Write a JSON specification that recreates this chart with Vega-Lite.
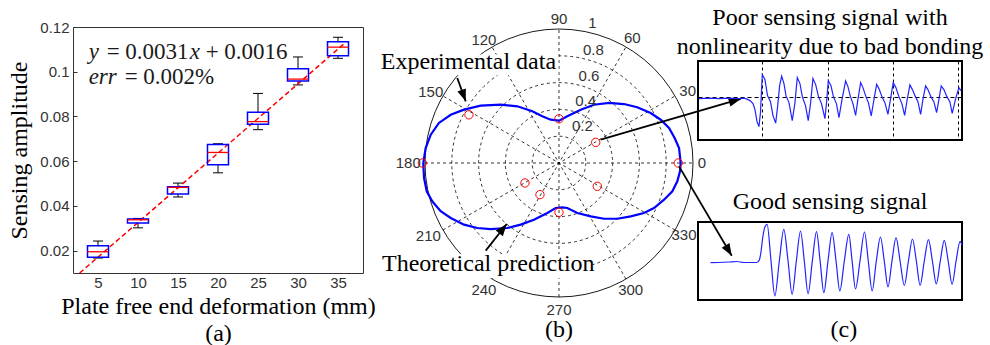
{
  "$schema": "https://vega.github.io/schema/vega-lite/v6.json",
  "background": "white",
  "padding": {"left": 7, "top": 5, "right": 5, "bottom": 5},
  "config": {
    "view": {"stroke": null},
    "axis": {"labelFont": "Liberation Sans", "titleFont": "Liberation Serif", "titleFontWeight": "normal"},
    "axisX": {"ticks": false, "domain": false, "grid": false, "labelFontSize": 15, "labelColor": "#333333", "labelPadding": 2, "titleFontSize": 24, "titleColor": "black", "titleLineHeight": 27, "titlePadding": 4},
    "axisY": {"ticks": true, "tickSize": -4, "tickColor": "#333333", "domain": false, "grid": false, "labelFontSize": 15, "labelColor": "#333333", "labelPadding": 8, "titleFontSize": 24, "titleColor": "black", "titlePadding": 8},
    "title": {"font": "Liberation Serif", "fontWeight": "normal"}
  },
  "datasets": {
    "boxes": [
      {"deformation": 5, "min": 0.0167, "q1": 0.0170, "median": 0.0195, "q3": 0.0222, "max": 0.0243},
      {"deformation": 10, "min": 0.0302, "q1": 0.0324, "median": 0.0338, "q3": 0.0341, "max": 0.0344},
      {"deformation": 15, "min": 0.0440, "q1": 0.0453, "median": 0.0483, "q3": 0.0486, "max": 0.0502},
      {"deformation": 20, "min": 0.0548, "q1": 0.0584, "median": 0.0639, "q3": 0.0675, "max": 0.0678},
      {"deformation": 25, "min": 0.0741, "q1": 0.0765, "median": 0.0777, "q3": 0.0819, "max": 0.0903},
      {"deformation": 30, "min": 0.0941, "q1": 0.0959, "median": 0.0967, "q3": 0.1013, "max": 0.1066},
      {"deformation": 35, "min": 0.1060, "q1": 0.1071, "median": 0.1110, "q3": 0.1134, "max": 0.1154}
    ],
    "fit": [
      {"deformation": 2.71, "amplitude": 0.01},
      {"deformation": 35.8, "amplitude": 0.1126}
    ],
    "theory": [
      {"i": 0, "x": -1.013, "y": 0}, {"i": 1, "x": -0.995, "y": 0.112}, {"i": 2, "x": -0.957, "y": 0.211},
      {"i": 3, "x": -0.896, "y": 0.299}, {"i": 4, "x": -0.808, "y": 0.36}, {"i": 5, "x": -0.709, "y": 0.398},
      {"i": 6, "x": -0.584, "y": 0.428}, {"i": 7, "x": -0.435, "y": 0.435}, {"i": 8, "x": -0.311, "y": 0.423},
      {"i": 9, "x": -0.199, "y": 0.386}, {"i": 10, "x": -0.125, "y": 0.349}, {"i": 11, "x": -0.062, "y": 0.323},
      {"i": 12, "x": 0, "y": 0.316}, {"i": 13, "x": 0.062, "y": 0.349}, {"i": 14, "x": 0.162, "y": 0.398},
      {"i": 15, "x": 0.261, "y": 0.435}, {"i": 16, "x": 0.373, "y": 0.448}, {"i": 17, "x": 0.485, "y": 0.44},
      {"i": 18, "x": 0.584, "y": 0.416}, {"i": 19, "x": 0.684, "y": 0.373}, {"i": 20, "x": 0.759, "y": 0.323},
      {"i": 21, "x": 0.821, "y": 0.261}, {"i": 22, "x": 0.863, "y": 0.187}, {"i": 23, "x": 0.896, "y": 0.112},
      {"i": 24, "x": 0.908, "y": 0}, {"i": 25, "x": 0.903, "y": -0.062}, {"i": 26, "x": 0.883, "y": -0.137},
      {"i": 27, "x": 0.846, "y": -0.211}, {"i": 28, "x": 0.784, "y": -0.274}, {"i": 29, "x": 0.709, "y": -0.336},
      {"i": 30, "x": 0.634, "y": -0.373}, {"i": 31, "x": 0.535, "y": -0.398}, {"i": 32, "x": 0.435, "y": -0.416},
      {"i": 33, "x": 0.336, "y": -0.416}, {"i": 34, "x": 0.237, "y": -0.398}, {"i": 35, "x": 0.137, "y": -0.373},
      {"i": 36, "x": 0.062, "y": -0.336}, {"i": 37, "x": 0.025, "y": -0.331}, {"i": 38, "x": -0.025, "y": -0.336},
      {"i": 39, "x": -0.087, "y": -0.373}, {"i": 40, "x": -0.187, "y": -0.423}, {"i": 41, "x": -0.286, "y": -0.46},
      {"i": 42, "x": -0.386, "y": -0.485}, {"i": 43, "x": -0.51, "y": -0.493}, {"i": 44, "x": -0.61, "y": -0.485},
      {"i": 45, "x": -0.709, "y": -0.46}, {"i": 46, "x": -0.808, "y": -0.41}, {"i": 47, "x": -0.883, "y": -0.36},
      {"i": 48, "x": -0.946, "y": -0.286}, {"i": 49, "x": -0.987, "y": -0.211}, {"i": 50, "x": -1.007, "y": -0.112},
      {"i": 51, "x": -1.013, "y": 0}
    ],
    "experiment": [
      {"x": -1.02, "y": 0}, {"x": -0.672, "y": 0.36}, {"x": 0, "y": 0.33}, {"x": 0.274, "y": 0.154},
      {"x": 0.89, "y": 0}, {"x": 0.286, "y": -0.174}, {"x": 0, "y": -0.368}, {"x": -0.142, "y": -0.236},
      {"x": -0.254, "y": -0.149}
    ],
    "rings": [{"r": 0.2}, {"r": 0.4}, {"r": 0.6}, {"r": 0.8}, {"r": 1}],
    "spokes": [
      {"x": -1, "y": 0, "x2": 1, "y2": 0},
      {"x": -0.866, "y": -0.5, "x2": 0.866, "y2": 0.5},
      {"x": -0.5, "y": -0.866, "x2": 0.5, "y2": 0.866},
      {"x": 0, "y": -1, "x2": 0, "y2": 1},
      {"x": 0.5, "y": -0.866, "x2": -0.5, "y2": 0.866},
      {"x": 0.866, "y": -0.5, "x2": -0.866, "y2": 0.5}
    ],
    "angleLabels": [
      {"label": "0", "x": 1.067, "y": 0}, {"label": "30", "x": 0.96, "y": 0.535},
      {"label": "60", "x": 0.547, "y": 0.933}, {"label": "90", "x": 0, "y": 1.077},
      {"label": "120", "x": -0.56, "y": 0.92}, {"label": "150", "x": -0.957, "y": 0.53},
      {"label": "180", "x": -1.125, "y": 0}, {"label": "210", "x": -0.975, "y": -0.547},
      {"label": "240", "x": -0.56, "y": -0.945}, {"label": "270", "x": 0, "y": -1.095},
      {"label": "300", "x": 0.535, "y": -0.945}, {"label": "330", "x": 0.933, "y": -0.54}
    ],
    "radiusLabels": [
      {"label": "1", "x": 0.249, "y": 1.045}, {"label": "0.8", "x": 0.256, "y": 0.846},
      {"label": "0.6", "x": 0.224, "y": 0.652}, {"label": "0.4", "x": 0.199, "y": 0.465},
      {"label": "0.2", "x": 0.174, "y": 0.274}
    ],
    "arrows": [
      {"tx": -0.759, "ty": 0.634, "hx": -0.696, "hy": 0.46},
      {"tx": -0.547, "ty": -0.654, "hx": -0.39, "hy": -0.455},
      {"tx": 0.311, "ty": 0.174, "hx": 1.356, "hy": 0.478},
      {"tx": 0.896, "ty": -0.025, "hx": 1.289, "hy": -0.692}
    ],
    "poor": [
      {"t": 0.031, "v": -0.047}, {"t": 0.184, "v": -0.033}, {"t": 0.337, "v": -0.047}, {"t": 0.49, "v": -0.033},
      {"t": 0.643, "v": -0.047}, {"t": 0.72, "v": -0.033}, {"t": 0.766, "v": -0.061}, {"t": 0.812, "v": -0.103},
      {"t": 0.858, "v": -0.187}, {"t": 0.888, "v": -0.354}, {"t": 0.919, "v": -0.688}, {"t": 0.949, "v": -0.827},
      {"t": 0.972, "v": -0.437}, {"t": 1.0, "v": 0.621}, {"t": 1.041, "v": 0.482}, {"t": 1.08, "v": 0.036},
      {"t": 1.126, "v": -0.131}, {"t": 1.164, "v": -0.521}, {"t": 1.205, "v": -0.73}, {"t": 1.233, "v": -0.298},
      {"t": 1.266, "v": 0.315}, {"t": 1.297, "v": 0.579}, {"t": 1.332, "v": 0.37}, {"t": 1.363, "v": 0.036},
      {"t": 1.409, "v": -0.159}, {"t": 1.459, "v": -0.66}, {"t": 1.501, "v": -0.159}, {"t": 1.536, "v": 0.538},
      {"t": 1.577, "v": 0.37}, {"t": 1.613, "v": 0.008}, {"t": 1.662, "v": -0.242}, {"t": 1.704, "v": -0.66},
      {"t": 1.741, "v": -0.159}, {"t": 1.776, "v": 0.51}, {"t": 1.818, "v": 0.343}, {"t": 1.861, "v": 0.008},
      {"t": 1.907, "v": -0.187}, {"t": 1.96, "v": -0.604}, {"t": 1.986, "v": -0.131}, {"t": 2.011, "v": 0.454},
      {"t": 2.052, "v": 0.315}, {"t": 2.09, "v": 0.008}, {"t": 2.136, "v": -0.187}, {"t": 2.175, "v": -0.577},
      {"t": 2.221, "v": -0.075}, {"t": 2.277, "v": 0.446}, {"t": 2.312, "v": 0.287}, {"t": 2.351, "v": 0.008},
      {"t": 2.389, "v": -0.187}, {"t": 2.43, "v": -0.513}, {"t": 2.465, "v": -0.075}, {"t": 2.507, "v": 0.398},
      {"t": 2.542, "v": 0.259}, {"t": 2.588, "v": 0.008}, {"t": 2.626, "v": -0.159}, {"t": 2.669, "v": -0.529},
      {"t": 2.711, "v": -0.075}, {"t": 2.752, "v": 0.351}, {"t": 2.787, "v": 0.231}, {"t": 2.833, "v": 0.008},
      {"t": 2.879, "v": -0.159}, {"t": 2.925, "v": -0.485}, {"t": 2.963, "v": -0.075}, {"t": 3.006, "v": 0.398},
      {"t": 3.047, "v": 0.259}, {"t": 3.093, "v": 0.008}, {"t": 3.139, "v": -0.187}, {"t": 3.181, "v": -0.513},
      {"t": 3.22, "v": -0.075}, {"t": 3.262, "v": 0.334}, {"t": 3.3, "v": 0.203}, {"t": 3.346, "v": 0.008},
      {"t": 3.385, "v": -0.131}, {"t": 3.426, "v": -0.485}, {"t": 3.461, "v": -0.075}, {"t": 3.502, "v": 0.306},
      {"t": 3.538, "v": 0.203}, {"t": 3.583, "v": 0.008}, {"t": 3.629, "v": -0.131}, {"t": 3.671, "v": -0.437},
      {"t": 3.706, "v": -0.075}, {"t": 3.741, "v": 0.306}, {"t": 3.783, "v": 0.203}, {"t": 3.828, "v": 0.008},
      {"t": 3.874, "v": -0.131}, {"t": 3.91, "v": -0.457}, {"t": 3.959, "v": -0.075}, {"t": 4.012, "v": 0.259},
      {"t": 4.043, "v": 0.175}
    ],
    "good": [
      {"t": 0.135, "v": -0.044}, {"t": 0.265, "v": -0.038}, {"t": 0.42, "v": -0.026}, {"t": 0.545, "v": -0.013},
      {"t": 0.654, "v": -0.038}, {"t": 0.763, "v": -0.038}, {"t": 0.856, "v": -0.038}, {"t": 0.895, "v": 0.026},
      {"t": 0.918, "v": 0.205}, {"t": 0.949, "v": 0.615}, {"t": 0.981, "v": 0.872}, {"t": 1.016, "v": 0.941},
      {"t": 1.077, "v": 0}, {"t": 1.136, "v": -0.897}, {"t": 1.206, "v": 0}, {"t": 1.276, "v": 0.813},
      {"t": 1.342, "v": 0}, {"t": 1.405, "v": -0.854}, {"t": 1.471, "v": 0}, {"t": 1.536, "v": 0.769},
      {"t": 1.595, "v": 0}, {"t": 1.654, "v": -0.838}, {"t": 1.72, "v": 0}, {"t": 1.785, "v": 0.751},
      {"t": 1.841, "v": 0}, {"t": 1.899, "v": -0.813}, {"t": 1.964, "v": 0}, {"t": 2.028, "v": 0.726},
      {"t": 2.089, "v": 0}, {"t": 2.148, "v": -0.769}, {"t": 2.218, "v": 0}, {"t": 2.288, "v": 0.685},
      {"t": 2.339, "v": 0}, {"t": 2.392, "v": -0.718}, {"t": 2.462, "v": 0}, {"t": 2.532, "v": 0.744},
      {"t": 2.591, "v": 0}, {"t": 2.651, "v": -0.769}, {"t": 2.716, "v": 0}, {"t": 2.781, "v": 0.615},
      {"t": 2.84, "v": 0}, {"t": 2.898, "v": -0.667}, {"t": 2.96, "v": 0}, {"t": 3.023, "v": 0.597},
      {"t": 3.086, "v": 0}, {"t": 3.152, "v": -0.628}, {"t": 3.216, "v": 0}, {"t": 3.279, "v": 0.564},
      {"t": 3.339, "v": 0}, {"t": 3.398, "v": -0.628}, {"t": 3.463, "v": 0}, {"t": 3.528, "v": 0.546},
      {"t": 3.589, "v": 0}, {"t": 3.65, "v": -0.59}, {"t": 3.712, "v": 0}, {"t": 3.774, "v": 0.531},
      {"t": 3.835, "v": 0}, {"t": 3.896, "v": -0.597}, {"t": 3.958, "v": 0}, {"t": 4.02, "v": 0.505},
      {"t": 4.05, "v": 0.4}
    ]
  },
  "spacing": 20,
  "bounds": "flush",
  "hconcat": [
    {
      "width": 290,
      "height": 246,
      "view": {"stroke": "#333333", "strokeWidth": 1},
      "layer": [
        {
          "data": {"name": "boxes"},
          "mark": {"type": "rule", "color": "black", "strokeWidth": 1},
          "encoding": {
            "x": {"field": "deformation", "type": "quantitative", "scale": {"domain": [2.5, 37.5], "nice": false, "zero": false}, "axis": {"values": [5, 10, 15, 20, 25, 30, 35], "title": ["Plate free end deformation (mm)", "(a)"]}},
            "y": {"field": "max", "type": "quantitative", "scale": {"domain": [0.01, 0.12], "nice": false, "zero": false}, "axis": {"values": [0.02, 0.04, 0.06, 0.08, 0.1, 0.12], "format": ".2~f", "title": "Sensing amplitude"}},
            "y2": {"field": "q3"}
          }
        },
        {
          "data": {"name": "boxes"},
          "mark": {"type": "rule", "color": "black", "strokeWidth": 1},
          "encoding": {
            "x": {"field": "deformation", "type": "quantitative", "scale": {"domain": [2.5, 37.5], "nice": false, "zero": false}, "axis": {"values": [5, 10, 15, 20, 25, 30, 35], "title": ["Plate free end deformation (mm)", "(a)"]}},
            "y": {"field": "min", "type": "quantitative", "scale": {"domain": [0.01, 0.12], "nice": false, "zero": false}, "axis": {"values": [0.02, 0.04, 0.06, 0.08, 0.1, 0.12], "format": ".2~f", "title": "Sensing amplitude"}},
            "y2": {"field": "q1"}
          }
        },
        {
          "data": {"name": "boxes"},
          "mark": {"type": "tick", "orient": "horizontal", "size": 10, "thickness": 1, "color": "black", "opacity": 1},
          "encoding": {
            "x": {"field": "deformation", "type": "quantitative", "scale": {"domain": [2.5, 37.5], "nice": false, "zero": false}, "axis": {"values": [5, 10, 15, 20, 25, 30, 35], "title": ["Plate free end deformation (mm)", "(a)"]}},
            "y": {"field": "max", "type": "quantitative", "scale": {"domain": [0.01, 0.12], "nice": false, "zero": false}, "axis": {"values": [0.02, 0.04, 0.06, 0.08, 0.1, 0.12], "format": ".2~f", "title": "Sensing amplitude"}}
          }
        },
        {
          "data": {"name": "boxes"},
          "mark": {"type": "tick", "orient": "horizontal", "size": 10, "thickness": 1, "color": "black", "opacity": 1},
          "encoding": {
            "x": {"field": "deformation", "type": "quantitative", "scale": {"domain": [2.5, 37.5], "nice": false, "zero": false}, "axis": {"values": [5, 10, 15, 20, 25, 30, 35], "title": ["Plate free end deformation (mm)", "(a)"]}},
            "y": {"field": "min", "type": "quantitative", "scale": {"domain": [0.01, 0.12], "nice": false, "zero": false}, "axis": {"values": [0.02, 0.04, 0.06, 0.08, 0.1, 0.12], "format": ".2~f", "title": "Sensing amplitude"}}
          }
        },
        {
          "data": {"name": "fit"},
          "mark": {"type": "line", "color": "#ff0000", "strokeWidth": 1.5, "strokeDash": [5, 3]},
          "encoding": {
            "x": {"field": "deformation", "type": "quantitative", "scale": {"domain": [2.5, 37.5], "nice": false, "zero": false}, "axis": {"values": [5, 10, 15, 20, 25, 30, 35], "title": ["Plate free end deformation (mm)", "(a)"]}},
            "y": {"field": "amplitude", "type": "quantitative", "scale": {"domain": [0.01, 0.12], "nice": false, "zero": false}, "axis": {"values": [0.02, 0.04, 0.06, 0.08, 0.1, 0.12], "format": ".2~f", "title": "Sensing amplitude"}}
          }
        },
        {
          "data": {"name": "boxes"},
          "mark": {"type": "bar", "orient": "vertical", "size": 21, "fill": "white", "fillOpacity": 0, "stroke": "#0000ff", "strokeWidth": 1.5},
          "encoding": {
            "x": {"field": "deformation", "type": "quantitative", "scale": {"domain": [2.5, 37.5], "nice": false, "zero": false}, "axis": {"values": [5, 10, 15, 20, 25, 30, 35], "title": ["Plate free end deformation (mm)", "(a)"]}},
            "y": {"field": "q1", "type": "quantitative", "scale": {"domain": [0.01, 0.12], "nice": false, "zero": false}, "axis": {"values": [0.02, 0.04, 0.06, 0.08, 0.1, 0.12], "format": ".2~f", "title": "Sensing amplitude"}},
            "y2": {"field": "q3"}
          }
        },
        {
          "data": {"name": "boxes"},
          "mark": {"type": "tick", "orient": "horizontal", "size": 21, "thickness": 1.3, "color": "#ff0000", "opacity": 1},
          "encoding": {
            "x": {"field": "deformation", "type": "quantitative", "scale": {"domain": [2.5, 37.5], "nice": false, "zero": false}, "axis": {"values": [5, 10, 15, 20, 25, 30, 35], "title": ["Plate free end deformation (mm)", "(a)"]}},
            "y": {"field": "median", "type": "quantitative", "scale": {"domain": [0.01, 0.12], "nice": false, "zero": false}, "axis": {"values": [0.02, 0.04, 0.06, 0.08, 0.1, 0.12], "format": ".2~f", "title": "Sensing amplitude"}}
          }
        },
        {
          "data": {"values": [{"piece": "y"}]},
          "mark": {"type": "text", "font": "Liberation Serif", "fontStyle": "italic", "fontSize": 23, "color": "#1a1a1a", "align": "left", "baseline": "alphabetic", "dx": 0},
          "encoding": {
            "x": {"datum": 3.83, "type": "quantitative", "scale": {"domain": [2.5, 37.5], "nice": false, "zero": false}, "axis": {"values": [5, 10, 15, 20, 25, 30, 35], "title": ["Plate free end deformation (mm)", "(a)"]}},
            "y": {"datum": 0.1058, "type": "quantitative", "scale": {"domain": [0.01, 0.12], "nice": false, "zero": false}, "axis": {"values": [0.02, 0.04, 0.06, 0.08, 0.1, 0.12], "format": ".2~f", "title": "Sensing amplitude"}},
            "text": {"field": "piece"}
          }
        },
        {
          "data": {"values": [{"piece": "= 0.0031"}]},
          "mark": {"type": "text", "font": "Liberation Serif", "fontSize": 23, "color": "#1a1a1a", "align": "left", "baseline": "alphabetic", "dx": 18},
          "encoding": {
            "x": {"datum": 3.83, "type": "quantitative", "scale": {"domain": [2.5, 37.5], "nice": false, "zero": false}, "axis": {"values": [5, 10, 15, 20, 25, 30, 35], "title": ["Plate free end deformation (mm)", "(a)"]}},
            "y": {"datum": 0.1058, "type": "quantitative", "scale": {"domain": [0.01, 0.12], "nice": false, "zero": false}, "axis": {"values": [0.02, 0.04, 0.06, 0.08, 0.1, 0.12], "format": ".2~f", "title": "Sensing amplitude"}},
            "text": {"field": "piece"}
          }
        },
        {
          "data": {"values": [{"piece": "x"}]},
          "mark": {"type": "text", "font": "Liberation Serif", "fontStyle": "italic", "fontSize": 23, "color": "#1a1a1a", "align": "left", "baseline": "alphabetic", "dx": 101},
          "encoding": {
            "x": {"datum": 3.83, "type": "quantitative", "scale": {"domain": [2.5, 37.5], "nice": false, "zero": false}, "axis": {"values": [5, 10, 15, 20, 25, 30, 35], "title": ["Plate free end deformation (mm)", "(a)"]}},
            "y": {"datum": 0.1058, "type": "quantitative", "scale": {"domain": [0.01, 0.12], "nice": false, "zero": false}, "axis": {"values": [0.02, 0.04, 0.06, 0.08, 0.1, 0.12], "format": ".2~f", "title": "Sensing amplitude"}},
            "text": {"field": "piece"}
          }
        },
        {
          "data": {"values": [{"piece": "+ 0.0016"}]},
          "mark": {"type": "text", "font": "Liberation Serif", "fontSize": 23, "color": "#1a1a1a", "align": "left", "baseline": "alphabetic", "dx": 117},
          "encoding": {
            "x": {"datum": 3.83, "type": "quantitative", "scale": {"domain": [2.5, 37.5], "nice": false, "zero": false}, "axis": {"values": [5, 10, 15, 20, 25, 30, 35], "title": ["Plate free end deformation (mm)", "(a)"]}},
            "y": {"datum": 0.1058, "type": "quantitative", "scale": {"domain": [0.01, 0.12], "nice": false, "zero": false}, "axis": {"values": [0.02, 0.04, 0.06, 0.08, 0.1, 0.12], "format": ".2~f", "title": "Sensing amplitude"}},
            "text": {"field": "piece"}
          }
        },
        {
          "data": {"values": [{"piece": "err"}]},
          "mark": {"type": "text", "font": "Liberation Serif", "fontStyle": "italic", "fontSize": 23, "color": "#1a1a1a", "align": "left", "baseline": "alphabetic", "dx": 0},
          "encoding": {
            "x": {"datum": 3.83, "type": "quantitative", "scale": {"domain": [2.5, 37.5], "nice": false, "zero": false}, "axis": {"values": [5, 10, 15, 20, 25, 30, 35], "title": ["Plate free end deformation (mm)", "(a)"]}},
            "y": {"datum": 0.0943, "type": "quantitative", "scale": {"domain": [0.01, 0.12], "nice": false, "zero": false}, "axis": {"values": [0.02, 0.04, 0.06, 0.08, 0.1, 0.12], "format": ".2~f", "title": "Sensing amplitude"}},
            "text": {"field": "piece"}
          }
        },
        {
          "data": {"values": [{"piece": "= 0.002%"}]},
          "mark": {"type": "text", "font": "Liberation Serif", "fontSize": 23, "color": "#1a1a1a", "align": "left", "baseline": "alphabetic", "dx": 36},
          "encoding": {
            "x": {"datum": 3.83, "type": "quantitative", "scale": {"domain": [2.5, 37.5], "nice": false, "zero": false}, "axis": {"values": [5, 10, 15, 20, 25, 30, 35], "title": ["Plate free end deformation (mm)", "(a)"]}},
            "y": {"datum": 0.0943, "type": "quantitative", "scale": {"domain": [0.01, 0.12], "nice": false, "zero": false}, "axis": {"values": [0.02, 0.04, 0.06, 0.08, 0.1, 0.12], "format": ".2~f", "title": "Sensing amplitude"}},
            "text": {"field": "piece"}
          }
        }
      ]
    },
    {
      "width": 295,
      "height": 272,
      "layer": [
        {
          "data": {"name": "rings"},
          "transform": [{"filter": "datum.r < 1"}],
          "mark": {"type": "point", "shape": "circle", "filled": false, "color": "black", "strokeWidth": 0.8, "strokeDash": [3, 3], "opacity": 1},
          "encoding": {
            "x": {"datum": 0, "type": "quantitative", "scale": {"domain": [-1.3134, 0.8881], "nice": false, "zero": false}, "axis": null},
            "y": {"datum": 0, "type": "quantitative", "scale": {"domain": [-1.0149, 1.0149], "nice": false, "zero": false}, "axis": null},
            "size": {"field": "r", "type": "quantitative", "scale": {"type": "pow", "exponent": 2, "domain": [0, 1], "range": [0, 71824]}, "legend": null}
          }
        },
        {
          "data": {"name": "rings"},
          "transform": [{"filter": "datum.r == 1"}],
          "mark": {"type": "point", "shape": "circle", "filled": false, "color": "black", "strokeWidth": 0.9, "opacity": 1},
          "encoding": {
            "x": {"datum": 0, "type": "quantitative", "scale": {"domain": [-1.3134, 0.8881], "nice": false, "zero": false}, "axis": null},
            "y": {"datum": 0, "type": "quantitative", "scale": {"domain": [-1.0149, 1.0149], "nice": false, "zero": false}, "axis": null},
            "size": {"field": "r", "type": "quantitative", "scale": {"type": "pow", "exponent": 2, "domain": [0, 1], "range": [0, 71824]}, "legend": null}
          }
        },
        {
          "data": {"name": "spokes"},
          "mark": {"type": "rule", "color": "black", "strokeWidth": 0.8, "strokeDash": [3, 3]},
          "encoding": {
            "x": {"field": "x", "type": "quantitative", "scale": {"domain": [-1.3134, 0.8881], "nice": false, "zero": false}, "axis": null},
            "y": {"field": "y", "type": "quantitative", "scale": {"domain": [-1.0149, 1.0149], "nice": false, "zero": false}, "axis": null},
            "x2": {"field": "x2"},
            "y2": {"field": "y2"}
          }
        },
        {
          "data": {"values": [{}]},
          "mark": {"type": "rect", "color": "white", "opacity": 1},
          "encoding": {
            "x": {"datum": -1.345, "type": "quantitative", "scale": {"domain": [-1.3134, 0.8881], "nice": false, "zero": false}, "axis": null},
            "x2": {"datum": -0.005},
            "y": {"datum": 0.81, "type": "quantitative", "scale": {"domain": [-1.0149, 1.0149], "nice": false, "zero": false}, "axis": null},
            "y2": {"datum": 0.655}
          }
        },
        {
          "data": {"values": [{}]},
          "mark": {"type": "rect", "color": "white", "opacity": 1},
          "encoding": {
            "x": {"datum": -1.33, "type": "quantitative", "scale": {"domain": [-1.3134, 0.8881], "nice": false, "zero": false}, "axis": null},
            "x2": {"datum": 0.25},
            "y": {"datum": -0.68, "type": "quantitative", "scale": {"domain": [-1.0149, 1.0149], "nice": false, "zero": false}, "axis": null},
            "y2": {"datum": -0.86}
          }
        },
        {
          "data": {"name": "theory"},
          "mark": {"type": "line", "color": "#0000ff", "strokeWidth": 2.2, "interpolate": "linear"},
          "encoding": {
            "x": {"field": "x", "type": "quantitative", "scale": {"domain": [-1.3134, 0.8881], "nice": false, "zero": false}, "axis": null},
            "y": {"field": "y", "type": "quantitative", "scale": {"domain": [-1.0149, 1.0149], "nice": false, "zero": false}, "axis": null},
            "order": {"field": "i", "type": "quantitative"}
          }
        },
        {
          "data": {"name": "experiment"},
          "mark": {"type": "point", "shape": "circle", "filled": false, "color": "#ff0000", "size": 70, "strokeWidth": 1, "opacity": 1},
          "encoding": {
            "x": {"field": "x", "type": "quantitative", "scale": {"domain": [-1.3134, 0.8881], "nice": false, "zero": false}, "axis": null},
            "y": {"field": "y", "type": "quantitative", "scale": {"domain": [-1.0149, 1.0149], "nice": false, "zero": false}, "axis": null}
          }
        },
        {
          "data": {"name": "angleLabels"},
          "mark": {"type": "text", "font": "Liberation Sans", "fontSize": 15, "color": "#333333", "align": "center", "baseline": "middle"},
          "encoding": {
            "x": {"field": "x", "type": "quantitative", "scale": {"domain": [-1.3134, 0.8881], "nice": false, "zero": false}, "axis": null},
            "y": {"field": "y", "type": "quantitative", "scale": {"domain": [-1.0149, 1.0149], "nice": false, "zero": false}, "axis": null},
            "text": {"field": "label"}
          }
        },
        {
          "data": {"name": "radiusLabels"},
          "mark": {"type": "text", "font": "Liberation Sans", "fontSize": 15, "color": "#333333", "align": "center", "baseline": "middle"},
          "encoding": {
            "x": {"field": "x", "type": "quantitative", "scale": {"domain": [-1.3134, 0.8881], "nice": false, "zero": false}, "axis": null},
            "y": {"field": "y", "type": "quantitative", "scale": {"domain": [-1.0149, 1.0149], "nice": false, "zero": false}, "axis": null},
            "text": {"field": "label"}
          }
        },
        {
          "data": {"values": [{}]},
          "mark": {"type": "text", "text": "Experimental data", "font": "Liberation Serif", "fontSize": 24, "color": "black", "align": "left", "baseline": "alphabetic"},
          "encoding": {
            "x": {"datum": -1.33, "type": "quantitative", "scale": {"domain": [-1.3134, 0.8881], "nice": false, "zero": false}, "axis": null},
            "y": {"datum": 0.701, "type": "quantitative", "scale": {"domain": [-1.0149, 1.0149], "nice": false, "zero": false}, "axis": null}
          }
        },
        {
          "data": {"values": [{}]},
          "mark": {"type": "text", "text": "Theoretical prediction", "font": "Liberation Serif", "fontSize": 24, "color": "black", "align": "left", "baseline": "alphabetic"},
          "encoding": {
            "x": {"datum": -1.321, "type": "quantitative", "scale": {"domain": [-1.3134, 0.8881], "nice": false, "zero": false}, "axis": null},
            "y": {"datum": -0.806, "type": "quantitative", "scale": {"domain": [-1.0149, 1.0149], "nice": false, "zero": false}, "axis": null}
          }
        },
        {
          "data": {"values": [{}]},
          "mark": {"type": "text", "text": "(b)", "font": "Liberation Serif", "fontSize": 24, "color": "black", "align": "center", "baseline": "alphabetic"},
          "encoding": {
            "x": {"datum": 0, "type": "quantitative", "scale": {"domain": [-1.3134, 0.8881], "nice": false, "zero": false}, "axis": null},
            "y": {"datum": -1.3, "type": "quantitative", "scale": {"domain": [-1.0149, 1.0149], "nice": false, "zero": false}, "axis": null}
          }
        },
        {
          "data": {"name": "arrows"},
          "mark": {"type": "rule", "color": "black", "strokeWidth": 1.8},
          "encoding": {
            "x": {"field": "tx", "type": "quantitative", "scale": {"domain": [-1.3134, 0.8881], "nice": false, "zero": false}, "axis": null},
            "y": {"field": "ty", "type": "quantitative", "scale": {"domain": [-1.0149, 1.0149], "nice": false, "zero": false}, "axis": null},
            "x2": {"field": "hx"},
            "y2": {"field": "hy"}
          }
        },
        {
          "data": {"name": "arrows"},
          "transform": [{"calculate": "atan2(datum.hx - datum.tx, datum.hy - datum.ty) * 180 / PI", "as": "heading"}],
          "mark": {"type": "point", "shape": "M0,0L-0.75,2L0.75,2Z", "filled": true, "color": "black", "size": 144, "opacity": 1, "strokeWidth": 0},
          "encoding": {
            "x": {"field": "hx", "type": "quantitative", "scale": {"domain": [-1.3134, 0.8881], "nice": false, "zero": false}, "axis": null},
            "y": {"field": "hy", "type": "quantitative", "scale": {"domain": [-1.0149, 1.0149], "nice": false, "zero": false}, "axis": null},
            "angle": {"field": "heading", "type": "quantitative", "scale": null}
          }
        }
      ]
    },
    {
      "spacing": 33,
      "bounds": "flush",
      "vconcat": [
        {
          "width": 264, "height": 1,
          "data": {"values": [{}]},
          "mark": {"type": "text", "text": ""}
        },
        {
          "width": 264, "height": 79,
          "view": {"stroke": "black", "strokeWidth": 2},
          "title": {"text": ["Poor sensing signal with", "nonlinearity due to bad bonding"], "font": "Liberation Serif", "fontSize": 24, "fontWeight": "normal", "color": "black", "lineHeight": 29, "offset": 2, "anchor": "middle"},
          "data": {"name": "poor"},
          "mark": {"type": "line", "color": "#2222ff", "strokeWidth": 1.2},
          "encoding": {
            "x": {"field": "t", "type": "quantitative", "scale": {"domain": [0.015, 4.06], "nice": false, "zero": false},
                  "axis": {"values": [1, 2, 3, 4], "grid": true, "gridColor": "black", "gridDash": [3, 3], "gridWidth": 1, "gridOpacity": 1, "labels": false, "ticks": false, "domain": false, "title": null}},
            "y": {"field": "v", "type": "quantitative", "scale": {"domain": [-1.2, 1.0], "nice": false, "zero": false},
                  "axis": {"values": [0], "grid": true, "gridColor": "black", "gridDash": [4, 3], "gridWidth": 1, "gridOpacity": 1, "labels": false, "ticks": false, "domain": false, "title": null}}
          }
        },
        {
          "width": 264, "height": 16,
          "data": {"values": [{}]},
          "mark": {"type": "text", "text": ""}
        },
        {
          "width": 264, "height": 78,
          "view": {"stroke": "black", "strokeWidth": 2},
          "title": {"text": "Good sensing signal", "font": "Liberation Serif", "fontSize": 24, "fontWeight": "normal", "color": "black", "offset": 8, "anchor": "middle"},
          "layer": [
            {
              "data": {"name": "good"},
              "mark": {"type": "line", "color": "#2222ff", "strokeWidth": 1.2, "interpolate": "monotone"},
              "encoding": {
                "x": {"field": "t", "type": "quantitative", "scale": {"domain": [-0.06, 4.05], "nice": false, "zero": false},
                      "axis": {"values": [1, 2, 3, 4], "grid": true, "gridColor": "black", "gridDash": [1, 2], "gridWidth": 1, "gridOpacity": 1, "labels": false, "ticks": false, "domain": false, "title": null}},
                "y": {"field": "v", "type": "quantitative", "scale": {"domain": [-1.0, 1.0], "nice": false, "zero": false},
                      "axis": {"values": [0], "grid": true, "gridColor": "black", "gridDash": [4, 3], "gridWidth": 1, "gridOpacity": 1, "labels": false, "ticks": false, "domain": false, "title": null}}
              }
            },
            {
              "data": {"values": [{}]},
              "mark": {"type": "text", "text": "(c)", "font": "Liberation Serif", "fontSize": 24, "color": "black", "align": "center", "baseline": "alphabetic"},
              "encoding": {
                "x": {"datum": 2.21, "type": "quantitative", "scale": {"domain": [-0.06, 4.05], "nice": false, "zero": false}, "axis": null},
                "y": {"datum": -1.95, "type": "quantitative", "scale": {"domain": [-1.0, 1.0], "nice": false, "zero": false}, "axis": null}
              }
            }
          ]
        }
      ]
    }
  ]
}
